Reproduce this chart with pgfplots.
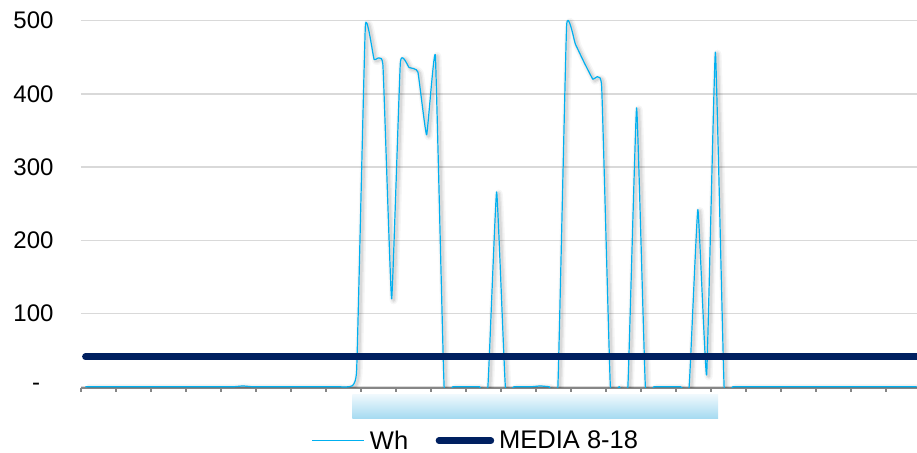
\documentclass[border=0pt]{standalone}
\usepackage{fontspec}
\setmainfont{Liberation Sans}
\usepackage{pgfplots}
\usepackage{pgfplotstable}
\pgfplotsset{compat=1.18}

\definecolor{whblue}{RGB}{0,176,240}
\definecolor{mediablue}{RGB}{0,32,96}
\definecolor{gridgray}{RGB}{217,217,217}
\definecolor{axisgray}{RGB}{134,134,134}
\definecolor{bandtop}{RGB}{238,248,253}
\definecolor{bandbottom}{RGB}{164,218,241}

% Energy per 15-minute slot over one day (slot 0 = 00:00)
\pgfplotstableread{
slot wh
0 0
1 0
2 0
3 0
4 0
5 0
6 0
7 0
8 0
9 0
10 0
11 0
12 0
13 0
14 0
15 0
16 0
17 0
18 1
19 0
20 0
21 0
22 0
23 0
24 0
25 0
26 0
27 0
28 0
29 0
30 0
31 22
32 493
33 447
34 440
35 120
36 443
37 436
38 430
39 344
40 452
41 0
42 0
43 0
44 0
45 0
46 0
47 266
48 0
49 0
50 0
51 0
52 1
53 0
54 0
55 493
56 468
57 443
58 420
59 411
60 0
61 0
62 0
63 381
64 0
65 0
66 0
67 0
68 0
69 0
70 242
71 16
72 457
73 0
74 0
75 0
76 0
77 0
78 0
79 0
80 0
81 0
82 0
83 0
84 0
85 0
86 0
87 0
88 0
89 0
90 0
91 0
92 0
93 0
94 0
95 0
}\energy

\pgfplotsset{
  shadowcurve/.style={forget plot, smooth, tension=0.2, draw=black, line join=round,
    xshift=2pt, yshift=-1.5pt},
}

\begin{document}
\begin{tikzpicture}
\begin{axis}[
  scale only axis, width=836pt, height=374.42pt,
  xmin=0, xmax=95.543, ymin=-1.5, ymax=510,
  axis x line*=bottom, axis y line*=left,
  y axis line style={draw=none},
  x axis line style={draw=axisgray, line width=2pt},
  xtick={0,4,...,92}, xticklabels={},
  xtick style={draw=axisgray, line width=2pt},
  tick align=outside, major tick length=4pt,
  ytick={0,100,...,500},
  yticklabels={-\hphantom{0},100,200,300,400,500},
  ytick style={draw=none},
  yticklabel style={font=\fontsize{24}{28}\selectfont, inner sep=0pt, anchor=east, xshift=-23.3pt},
  ymajorgrids, grid style={draw=gridgray, line width=1.5pt},
  legend columns=2,
  legend cell align=left,
  legend image code/.code={\draw[#1] (0pt,0pt) -- (52pt,0pt);},
  legend style={at={(0.276,-0.1413)}, anchor=west, draw=none, fill=none,
    inner sep=0pt, outer sep=0pt, font=\fontsize{25.5}{30}\selectfont,
    nodes={inner sep=0pt},
    /tikz/every odd column/.append style={column sep=5pt},
    /tikz/every even column/.append style={column sep=27.5pt}},
]
\coordinate (plotSW) at (rel axis cs:0,0);
\coordinate (plotNE) at (rel axis cs:1,1);
% corners of the daytime band (08:00-18:00) below the plot area
\coordinate (bandNW) at (axis cs:31.0,-11.3);
\coordinate (bandSE) at (axis cs:72.8,-44.1);

% soft drop shadow of the energy curve
\addplot[shadowcurve, opacity=0.035, line width=8pt]
  table[x expr=\thisrow{slot}+0.5, y=wh] {\energy};
\addplot[shadowcurve, opacity=0.05, line width=5pt]
  table[x expr=\thisrow{slot}+0.5, y=wh] {\energy};
\addplot[shadowcurve, opacity=0.07, line width=2.5pt]
  table[x expr=\thisrow{slot}+0.5, y=wh] {\energy};

\addplot[smooth, tension=0.2, color=whblue, line width=1.2pt, line join=round]
  table[x expr=\thisrow{slot}+0.5, y=wh] {\energy};
\addlegendentry{Wh}

\addplot[mediablue, line width=6.5pt, line cap=round]
  coordinates {(0.5,41) (95.5,41)};
\addlegendentry{MEDIA 8-18}
\end{axis}
\shade[top color=bandtop, bottom color=bandbottom] (bandNW) rectangle (bandSE);
\pgfresetboundingbox
\path[use as bounding box] ([xshift=-81pt,yshift=-65.2pt]plotSW) rectangle ([yshift=13.38pt]plotNE);
\end{tikzpicture}
\end{document}
